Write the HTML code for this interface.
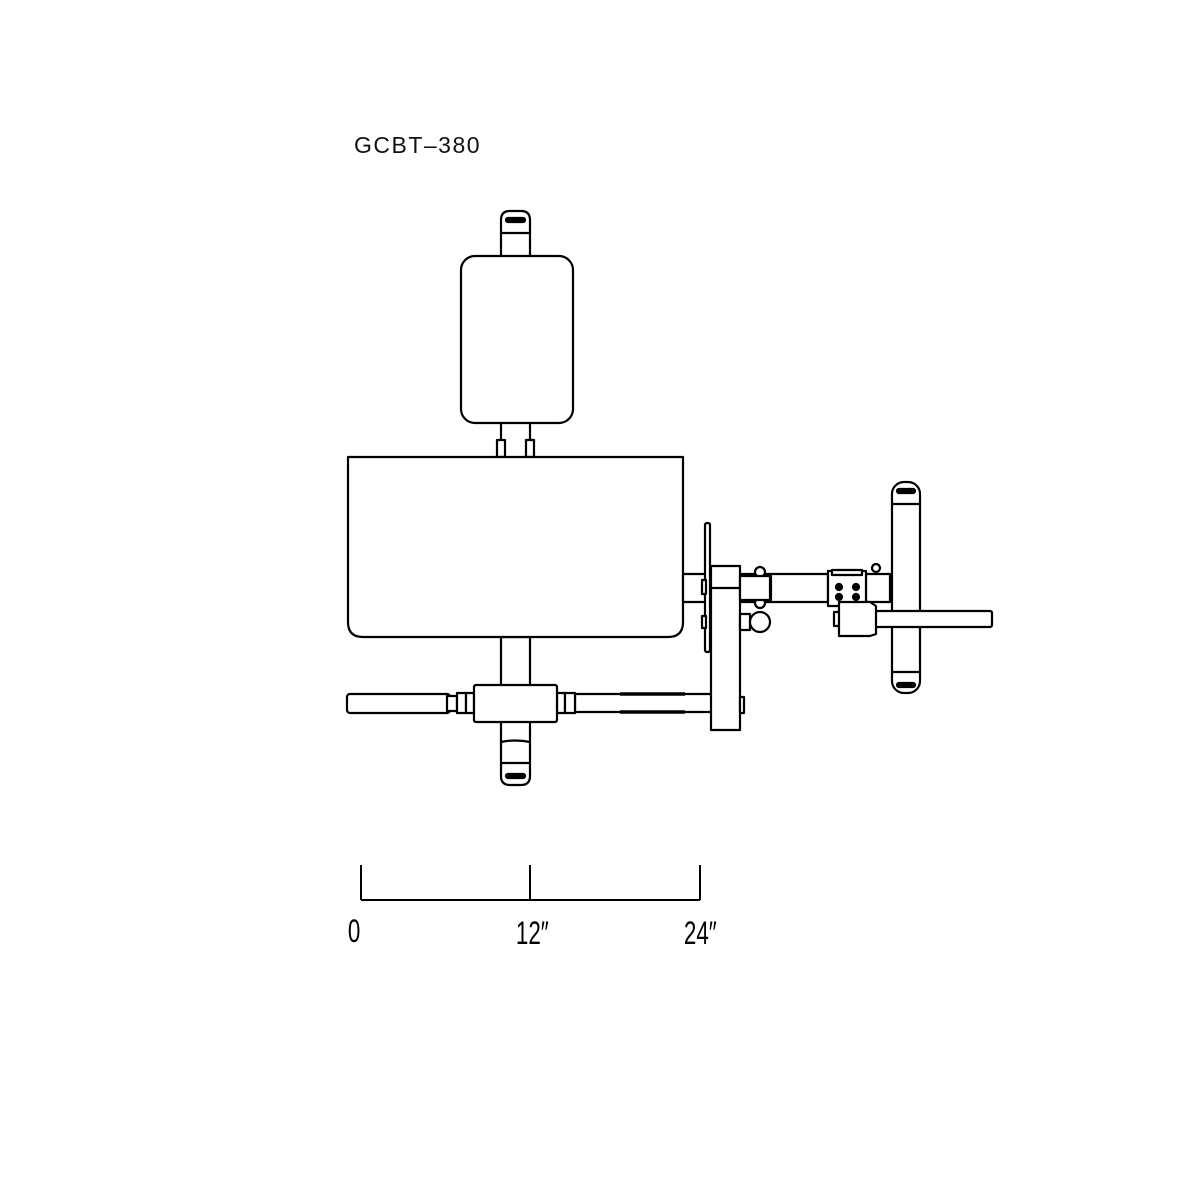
<!DOCTYPE html>
<html><head><style>body{margin:0;background:#fff}svg{display:block}</style></head><body>
<svg width="1200" height="1200" viewBox="0 0 1200 1200" xmlns="http://www.w3.org/2000/svg">
<rect width="1200" height="1200" fill="#fff"/>
<text x="354" y="153" font-family="Liberation Sans, sans-serif" font-size="23" letter-spacing="1.5" fill="#111">GCBT–380</text>
<g fill="#fff" stroke="#000" stroke-width="2.2" stroke-linejoin="round">
<!-- top leg -->
<path d="M501,255 V220 Q501,211 510,211 H521 Q530,211 530,220 V255"/>
<line x1="501" y1="233" x2="530" y2="233"/>
<rect x="506" y="218" width="19" height="4" rx="2" fill="#000"/>
<!-- back pad posts -->
<line x1="501" y1="423" x2="501" y2="445"/><line x1="530" y1="423" x2="530" y2="445"/>
<rect x="497" y="440" width="8" height="17"/><rect x="526" y="440" width="8" height="17"/>
<rect x="461" y="256" width="112" height="167" rx="14"/>
<!-- bottom post -->
<rect x="501" y="637" width="29" height="50"/>
<path d="M501,722 V776 Q501,785 510,785 H521 Q530,785 530,776 V722"/>
<line x1="501" y1="763" x2="530" y2="763"/>
<path d="M501,742 Q515,739 530,742" fill="none"/>
<rect x="506" y="774" width="19" height="4" rx="2" fill="#000"/>
<!-- seat -->
<path d="M348,457 H683 V622 Q683,637 668,637 H363 Q348,637 348,622 Z"/>
<!-- main tube -->
<rect x="683" y="574" width="145" height="28"/>
<!-- bottom bar -->
<rect x="347" y="694" width="103" height="19" rx="3"/>
<rect x="447" y="696" width="10" height="15"/>
<rect x="457" y="693" width="9" height="20"/>
<rect x="466" y="693" width="8" height="20"/>
<rect x="575" y="694" width="137" height="18"/>
<line x1="620" y1="694" x2="685" y2="694" stroke-width="3.5"/>
<line x1="620" y1="712" x2="685" y2="712" stroke-width="3.5"/>
<rect x="557" y="693" width="8" height="20"/>
<rect x="565" y="693" width="10" height="20"/>
<rect x="474" y="685" width="83" height="37" rx="2"/>
<!-- plate -->
<rect x="705" y="523" width="5" height="129" rx="2"/>
<rect x="702" y="580" width="4" height="14"/><rect x="702" y="616" width="4" height="12"/>
<rect x="711" y="566" width="29" height="164"/>
<line x1="711" y1="588" x2="740" y2="588"/>
<rect x="740" y="697" width="4" height="16"/>
<!-- bracket -->
<circle cx="760" cy="572" r="5"/><circle cx="760" cy="603" r="5"/>
<rect x="740" y="576" width="31" height="24"/>
<line x1="770" y1="576" x2="770" y2="600"/>
<rect x="740" y="614" width="10" height="16"/>
<circle cx="760" cy="622" r="10"/>
<!-- right assembly -->
<rect x="892" y="482" width="28" height="211" rx="12"/>
<line x1="892" y1="504" x2="920" y2="504"/><line x1="892" y1="672" x2="920" y2="672"/>
<rect x="897" y="489" width="18" height="4" rx="2" fill="#000"/>
<rect x="897" y="683" width="18" height="4" rx="2" fill="#000"/>
<circle cx="876" cy="568" r="4"/>
<rect x="866" y="574" width="24" height="28"/>
<rect x="828" y="571" width="38" height="35"/>
<rect x="832" y="570" width="30" height="5"/>
<circle cx="839" cy="587" r="3" fill="#000"/><circle cx="856" cy="587" r="3" fill="#000"/>
<circle cx="839" cy="597" r="3" fill="#000"/><circle cx="856" cy="597" r="3" fill="#000"/>
<rect x="873" y="611" width="119" height="16" rx="2"/>
<rect x="834" y="612" width="6" height="14"/>
<path d="M839,602 H870 L876,606 V634 L870,636 H839 Z"/>
</g>
<!-- scale -->
<g stroke="#000" stroke-width="2" fill="none">
<line x1="361" y1="900" x2="700" y2="900"/>
<line x1="361" y1="865" x2="361" y2="900"/>
<line x1="530" y1="865" x2="530" y2="900"/>
<line x1="700" y1="865" x2="700" y2="900"/>
</g>
<g font-family="Liberation Sans Narrow, Liberation Sans, sans-serif" font-size="32" fill="#000" transform="scale(0.7,1)">
<text x="497" y="942">0</text>
<text x="737" y="944">12″</text>
<text x="977" y="944">24″</text>
</g>
</svg>
</body></html>
